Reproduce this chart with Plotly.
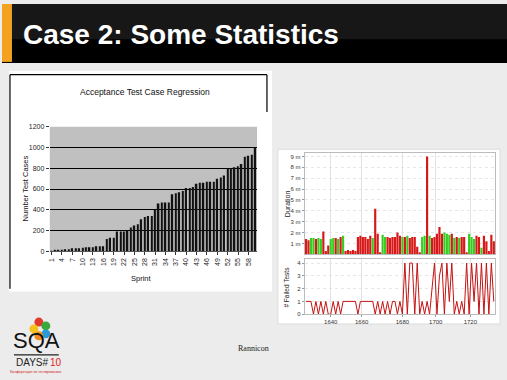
import plotly.graph_objects as go

W, H = 507, 380

def fx(x):
    return x / W

def fy(y):
    return 1 - y / H

# ---------------- data: left chart ----------------
sprints = list(range(1, 61))
test_cases = [5, 10, 10, 15, 20, 20, 30, 30, 30, 35,
              40, 40, 40, 50, 50, 50, 120, 130, 130, 190,
              190, 190, 200, 230, 250, 260, 310, 330, 340, 340,
              400, 460, 470, 470, 470, 550, 560, 570, 580, 610,
              610, 620, 650, 660, 660, 670, 670, 670, 700, 710,
              730, 800, 800, 810, 820, 840, 910, 920, 930, 1000]
sprint_ticks = list(range(1, 61, 3))
case_ticks = [0, 200, 400, 600, 800, 1000, 1200]

# ---------------- data: right chart ----------------
durations = [1.4, 1.3, 1.5, 1.5, 1.4, 1.5, 1.4, 2.1, 0.3, 0.8,
             1.4, 1.5, 1.5, 1.4, 1.6, 1.7, 0.3, 0.4, 0.3, 0.4,
             0.3, 1.6, 1.7, 1.6, 1.6, 1.4, 1.7, 1.5, 4.2, 1.9,
             0.2, 1.8, 1.6, 1.6, 1.5, 1.6, 1.6, 2.0, 1.7, 1.6,
             1.6, 1.7, 1.5, 1.6, 1.6, 0.7, 0.2, 1.6, 1.7, 9.0,
             1.7, 1.5, 1.6, 1.9, 2.5, 1.9, 2.0, 1.9, 1.8, 1.9,
             1.5, 1.6, 1.5, 1.6, 1.6, 0.2, 1.9, 1.6, 1.4, 1.7,
             1.6, 0.6, 1.7, 1.2, 0.3, 1.8, 1.2]
status = list("rrggrggrrr" "ggrgrgrrrr" "rrrrrrrgrr" "rggrrrrrrg"
              "rgrrrrrggr" "grrrrrgggr" "grgrrrgggr" "rgrrrrr")
failed = [1, 1, 1,
          0, 1, 0, 1, 0, 1, 0,
          0,
          1, 0, 1, 0, 1,
          1, 1, 1, 1, 1,
          0, 1,
          1, 1, 1, 1, 1,
          0, 1, 0, 1,
          0, 1, 0, 1, 1, 0, 1, 0,
          4, 0, 4, 4, 0, 4,
          0, 1, 0, 1, 0,
          2,
          4, 0, 3, 4, 0, 4, 1, 4, 0,
          1, 0, 1, 0,
          4, 0, 4, 1, 4, 0, 4, 0, 4, 0, 4,
          1]
builds = list(range(len(durations)))
build_tick_pos = [10, 22.5, 39, 52.5, 66.5]
build_tick_labels = ["1640", "1660", "1680", "1700", "1720"]
duration_ticks = [1, 2, 3, 4, 5, 6, 7, 8, 9]
duration_labels = [f"{v} m" for v in duration_ticks]
failed_ticks = [0, 1, 2, 3, 4]

RED = "#d81818"
GREEN = "#38cc22"
bar_colors = [GREEN if s == "g" else RED for s in status]

fig = go.Figure()

fig.add_trace(go.Bar(x=sprints, y=test_cases, width=0.45,
                     marker=dict(color="#111111", line=dict(width=0)),
                     xaxis="x", yaxis="y", showlegend=False))
fig.add_trace(go.Bar(x=builds, y=durations,
                     marker=dict(color=bar_colors, line=dict(width=0)),
                     xaxis="x2", yaxis="y2", showlegend=False))
fig.add_trace(go.Scatter(x=builds, y=failed, mode="lines",
                         line=dict(color="#c41212", width=1),
                         xaxis="x3", yaxis="y3", showlegend=False))

shapes = []
# slide header
shapes.append(dict(type="rect", xref="paper", yref="paper", x0=0, x1=1, y0=fy(60), y1=1,
                   fillcolor="#000000", line=dict(width=0), layer="below"))
shapes.append(dict(type="rect", xref="paper", yref="paper", x0=0, x1=1, y0=fy(36), y1=1,
                   fillcolor="#171717", line=dict(width=0), layer="below"))
shapes.append(dict(type="rect", xref="paper", yref="paper", x0=0, x1=fx(10), y0=fy(59), y1=1,
                   fillcolor="#f2a21e", line=dict(width=0), layer="below"))
# left chart panel
shapes.append(dict(type="rect", xref="paper", yref="paper", x0=fx(7), x1=fx(271), y0=fy(293), y1=fy(68),
                   fillcolor="#ffffff", line=dict(width=0), layer="below"))
shapes.append(dict(type="line", xref="paper", yref="paper", x0=fx(8), x1=fx(266), y0=fy(72), y1=fy(72),
                   line=dict(color="#000000", width=1.2), layer="below"))
shapes.append(dict(type="line", xref="paper", yref="paper", x0=fx(8), x1=fx(8), y0=fy(72), y1=fy(290),
                   line=dict(color="#000000", width=1.2), layer="below"))
shapes.append(dict(type="line", xref="paper", yref="paper", x0=fx(266), x1=fx(266), y0=fy(72), y1=fy(110),
                   line=dict(color="#000000", width=1.2), layer="below"))
shapes.append(dict(type="rect", xref="paper", yref="paper", x0=fx(48), x1=fx(256), y0=fy(252), y1=fy(125),
                   fillcolor="#c0c0c0", line=dict(width=0), layer="below"))
# right chart panel
shapes.append(dict(type="rect", xref="paper", yref="paper", x0=fx(277), x1=fx(500), y0=fy(326), y1=fy(148),
                   fillcolor="#ffffff", line=dict(color="#dddddd", width=1), layer="below"))
# logo balloons
for cx, cy, r, col in [(37, 324, 4.5, "#e23a2a"), (44, 328, 4.5, "#3aa83a"), (32, 331, 4.5, "#f4c21c"),
                       (44, 336, 4.5, "#2a9ad8"), (37, 338, 4.5, "#f08a1c")]:
    shapes.append(dict(type="circle", xref="paper", yref="paper", x0=fx(cx - r), x1=fx(cx + r),
                       y0=fy(cy + r), y1=fy(cy - r), fillcolor=col, line=dict(width=0)))
shapes.append(dict(type="line", xref="paper", yref="paper", x0=fx(12), x1=fx(57), y0=fy(357.5), y1=fy(357.5),
                   line=dict(color="#222222", width=1.2)))

annotations = [
    dict(text="<b>Case 2: Some Statistics</b>", x=fx(19), y=fy(31), xref="paper", yref="paper",
         xanchor="left", yanchor="middle", showarrow=False,
         font=dict(family="Liberation Sans, Arial", size=28, color="#ffffff")),
    dict(text="Acceptance Test Case Regression", x=fx(144), y=fy(90), xref="paper", yref="paper",
         xanchor="center", yanchor="middle", showarrow=False,
         font=dict(family="Liberation Sans, Arial", size=8.5, color="#111111")),
    dict(text="Number Test Cases", x=fx(24), y=fy(188), xref="paper", yref="paper", textangle=-90,
         xanchor="center", yanchor="middle", showarrow=False,
         font=dict(family="Liberation Sans, Arial", size=7.5, color="#111111")),
    dict(text="Sprint", x=fx(140), y=fy(280), xref="paper", yref="paper",
         xanchor="center", yanchor="middle", showarrow=False,
         font=dict(family="Liberation Sans, Arial", size=7.5, color="#111111")),
    dict(text="Duration", x=fx(286), y=fy(203), xref="paper", yref="paper", textangle=-90,
         xanchor="center", yanchor="middle", showarrow=False,
         font=dict(family="Liberation Sans, Arial", size=7, color="#222222")),
    dict(text="# Failed Tests", x=fx(286), y=fy(288), xref="paper", yref="paper", textangle=-90,
         xanchor="center", yanchor="middle", showarrow=False,
         font=dict(family="Liberation Sans, Arial", size=6.5, color="#222222")),
    dict(text="Rannicon", x=fx(252), y=fy(351), xref="paper", yref="paper",
         xanchor="center", yanchor="middle", showarrow=False,
         font=dict(family="Liberation Serif, serif", size=8, color="#222222")),
    dict(text="SQA", x=fx(34.5), y=fy(357), xref="paper", yref="paper",
         xanchor="center", yanchor="bottom", showarrow=False, borderpad=0,
         font=dict(family="Liberation Sans, Arial", size=22, color="#111111")),
    dict(text="DAYS#", x=fx(47), y=fy(358.5), xref="paper", yref="paper",
         xanchor="right", yanchor="top", showarrow=False, borderpad=0,
         font=dict(family="Liberation Sans, Arial", size=10, color="#222222")),
    dict(text="10", x=fx(47), y=fy(358.5), xref="paper", yref="paper",
         xanchor="left", yanchor="top", showarrow=False, borderpad=0,
         font=dict(family="Liberation Sans, Arial", size=10, color="#e02020")),
    dict(text="Конференция по тестированию", x=fx(34.5), y=fy(374.5), xref="paper", yref="paper",
         xanchor="center", yanchor="middle", showarrow=False, borderpad=0,
         font=dict(family="Liberation Sans, Arial", size=3.5, color="#d02020")),
]

tickfont_left = dict(family="Liberation Sans, Arial", size=7, color="#222222")
tickfont_right = dict(family="Liberation Sans, Arial", size=6, color="#333333")

fig.update_layout(
    width=W, height=H,
    margin=dict(l=0, r=0, t=0, b=0),
    paper_bgcolor="#ececec",
    plot_bgcolor="rgba(0,0,0,0)",
    bargap=0.12,
    shapes=shapes,
    annotations=annotations,
    xaxis=dict(domain=[fx(48), fx(256)], anchor="y", range=[0.5, 60.5],
               tickmode="array", tickvals=sprint_ticks, ticktext=[str(v) for v in sprint_ticks],
               tickangle=-90, tickfont=tickfont_left, ticks="outside", ticklen=3, tickcolor="#333",
               showgrid=False, showline=True, linecolor="#555555", linewidth=1, zeroline=False),
    yaxis=dict(domain=[fy(252), fy(125)], anchor="x", range=[0, 1200],
               tickmode="array", tickvals=case_ticks, tickfont=tickfont_left,
               ticks="outside", ticklen=3, tickcolor="#333",
               showgrid=True, gridcolor="#000000", gridwidth=1, zeroline=False, showline=False),
    xaxis2=dict(domain=[fx(304), fx(495)], anchor="y2", range=[-0.5, 76.5],
                tickmode="array", tickvals=build_tick_pos, showticklabels=False,
                showgrid=True, gridcolor="#e2e2e2", gridwidth=1,
                showline=True, linecolor="#bbbbbb", mirror=True, zeroline=False, ticks=""),
    yaxis2=dict(domain=[fy(255), fy(152)], anchor="x2", range=[0, 9.3],
                tickmode="array", tickvals=duration_ticks, ticktext=duration_labels,
                tickfont=tickfont_right, ticks="outside", ticklen=2, tickcolor="#999",
                showgrid=True, gridcolor="#e6e6e6", griddash="dot", gridwidth=1,
                showline=True, linecolor="#bbbbbb", mirror=True, zeroline=False),
    xaxis3=dict(domain=[fx(304), fx(495)], anchor="y3", range=[-0.5, 76.5],
                tickmode="array", tickvals=build_tick_pos, ticktext=build_tick_labels,
                tickfont=tickfont_right, ticks="outside", ticklen=2, tickcolor="#999",
                showgrid=True, gridcolor="#e2e2e2", gridwidth=1,
                showline=True, linecolor="#bbbbbb", mirror=True, zeroline=False),
    yaxis3=dict(domain=[fy(316), fy(260)], anchor="x3", range=[0, 4.3],
                tickmode="array", tickvals=failed_ticks, tickfont=tickfont_right,
                ticks="outside", ticklen=2, tickcolor="#999",
                showgrid=True, gridcolor="#e6e6e6", griddash="dot", gridwidth=1,
                showline=True, linecolor="#bbbbbb", mirror=True, zeroline=False),
)

fig.write_html("out.html", config={"displayModeBar": False},
               post_script="document.body.style.margin='0';document.body.style.overflow='hidden';")
